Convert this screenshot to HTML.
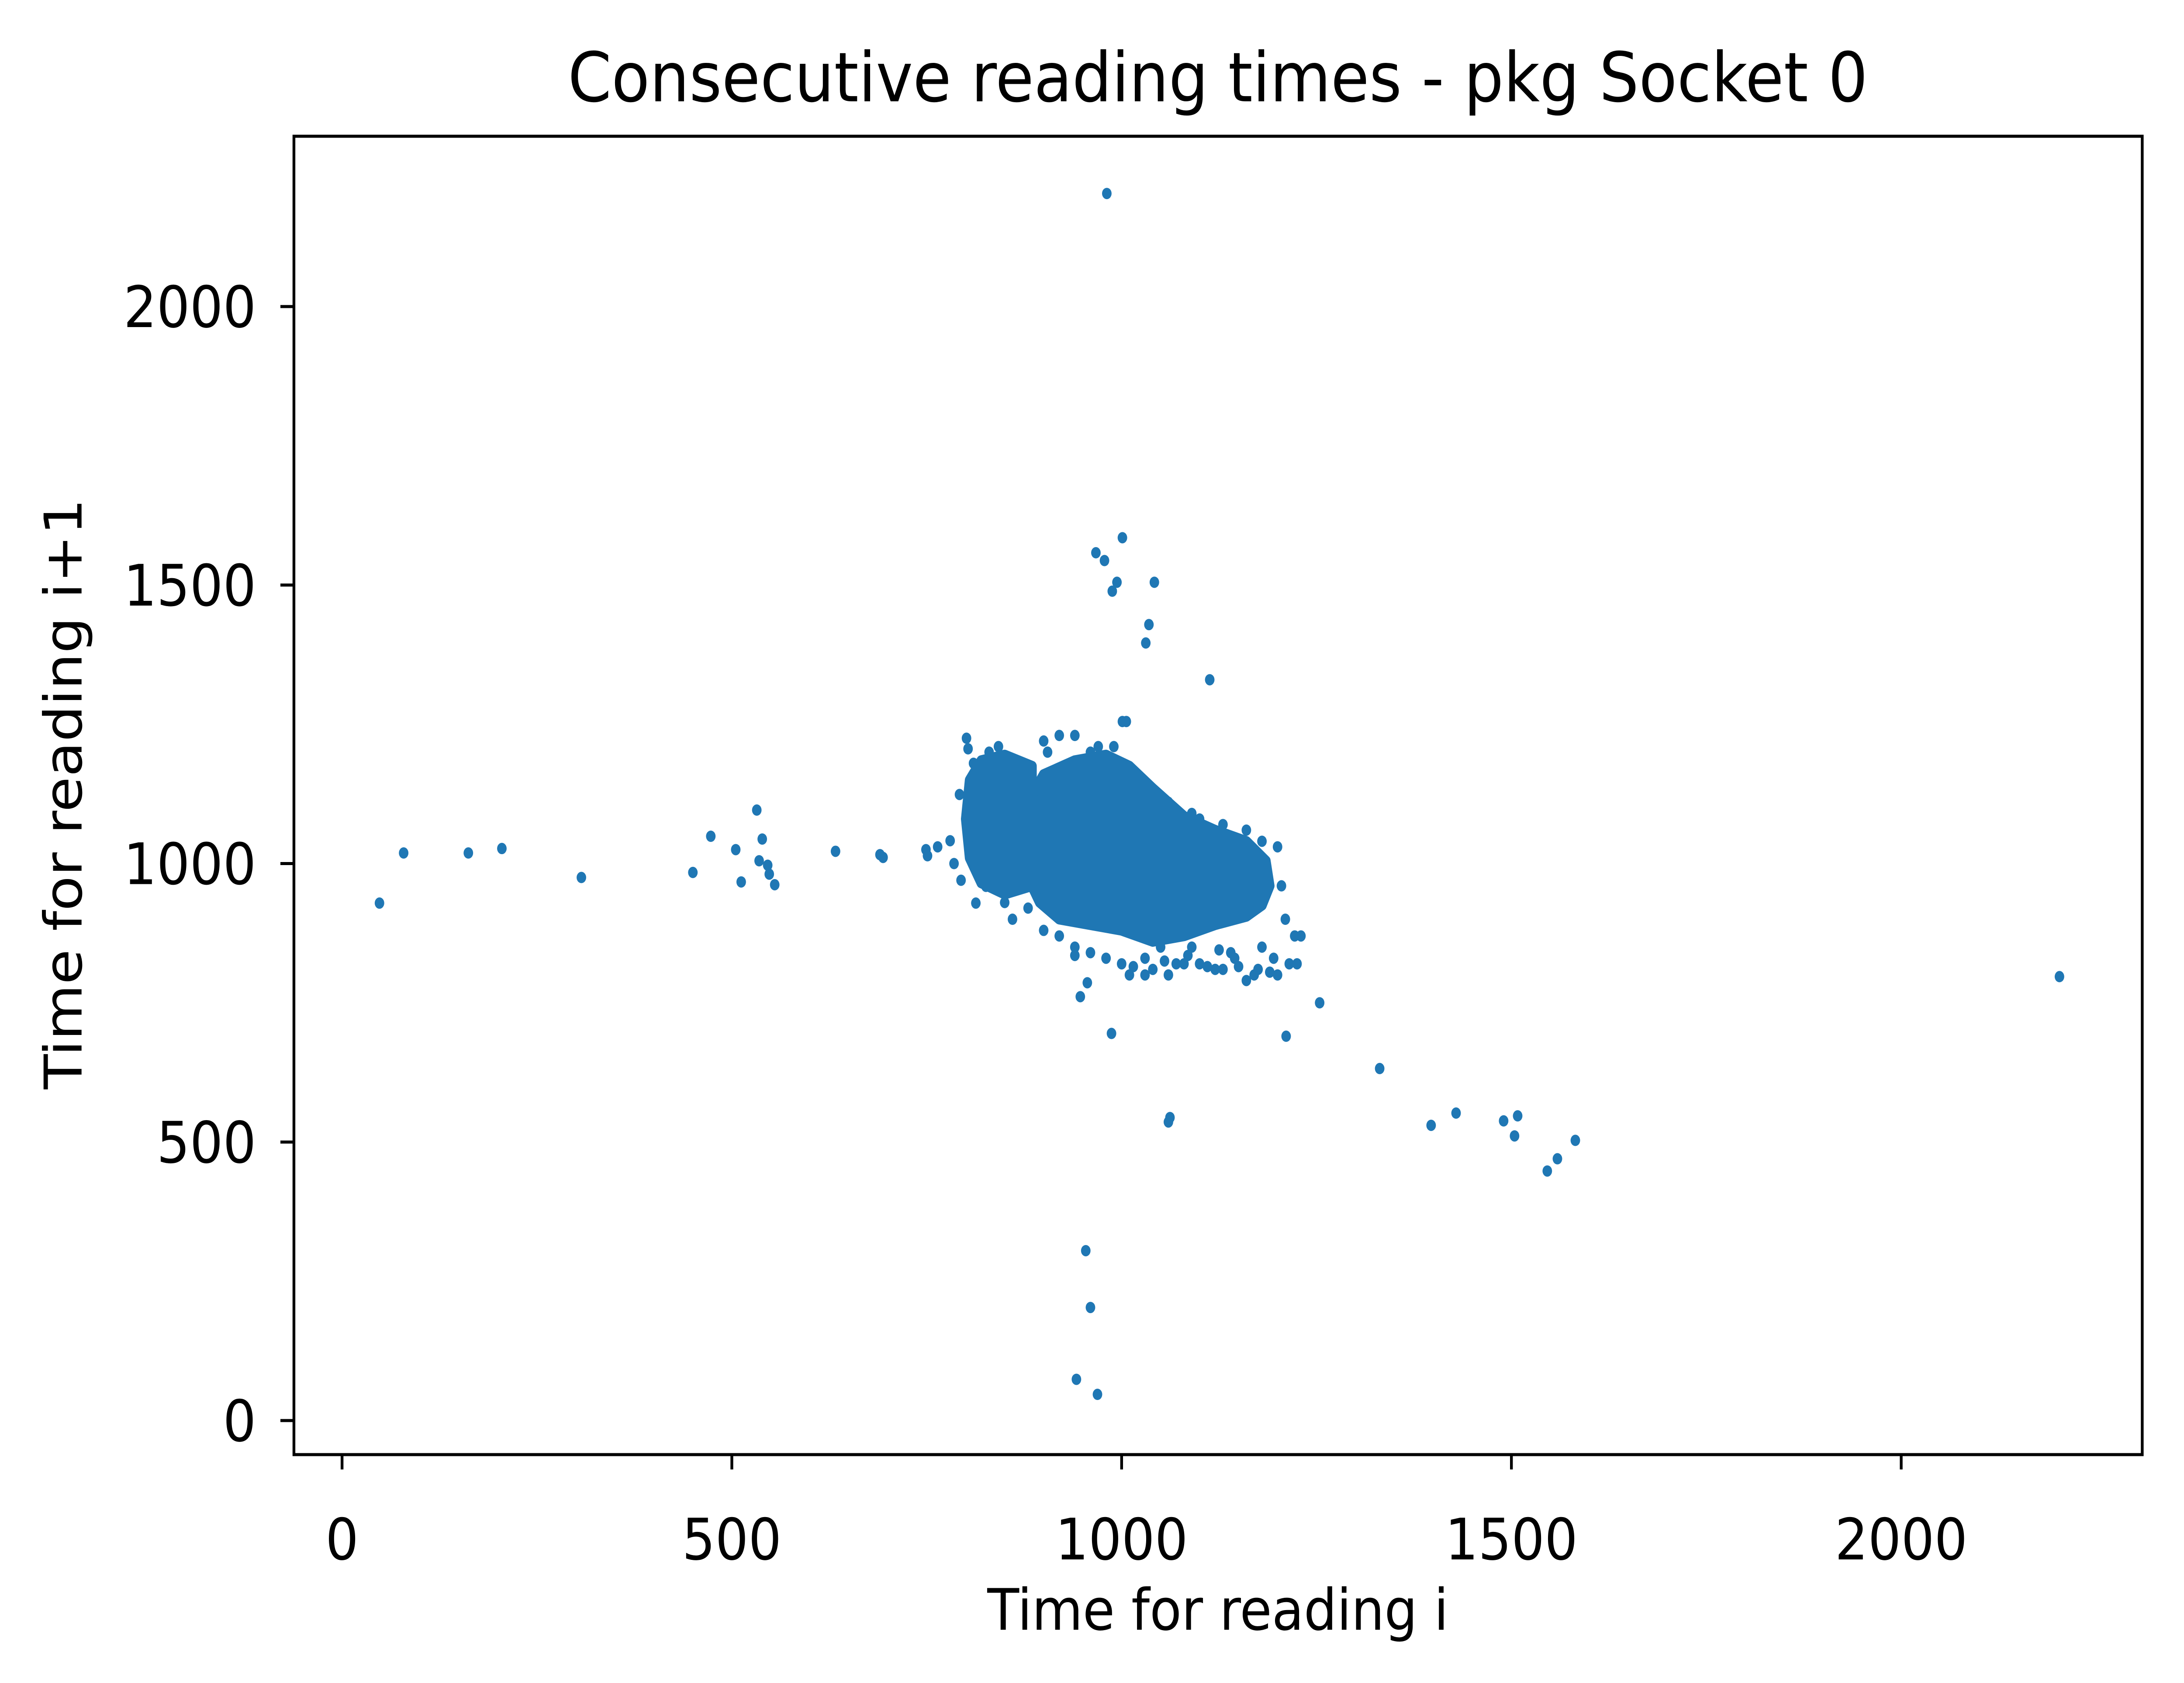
<!DOCTYPE html>
<html><head><meta charset="utf-8"><style>
html,body{margin:0;padding:0;background:#fff;overflow:hidden;width:100vw;height:100vh;}
svg{display:block;width:100vw;height:100vh;}
text{font-family:"DejaVu Sans","Liberation Sans",sans-serif;fill:#000;}
</style></head><body>
<svg id="chart" viewBox="0 0 5491 3854" preserveAspectRatio="none">
<rect x="0" y="0" width="5491" height="3854" fill="#fff"/>
<text x="3062" y="232" font-size="157" text-anchor="middle">Consecutive reading times - pkg Socket 0</text>
<text x="3062" y="3732" font-size="131" text-anchor="middle">Time for reading i</text>
<text transform="translate(205,1818) rotate(-90)" font-size="131" text-anchor="middle">Time for reading i+1</text>
<g id="marks"></g>
<g id="axes"></g>
</svg>
<script>
const xTicks = [0, 500, 1000, 1500, 2000];
const yTicks = [0, 500, 1000, 1500, 2000];
// dense core of the cluster (outline in data units)
const coreX = [880, 900, 940, 980, 1010, 1040, 1080, 1120, 1160, 1185, 1190, 1180, 1160, 1120, 1080, 1040, 1000, 960, 920, 895, 878, 872];
const coreY = [1110, 1160, 1185, 1195, 1175, 1135, 1085, 1060, 1040, 1005, 960, 925, 905, 890, 870, 860, 880, 890, 900, 930, 980, 1050];
// semi-dense left lobe of the cluster
const lobeX = [805, 820, 850, 885, 885, 850, 820, 805, 800];
const lobeY = [1150, 1185, 1195, 1175, 960, 945, 965, 1010, 1080];
// individual points
const ptX = [48,79,162,205,307,450,473,505,512,532,539,535,546,548,555,633,690,694,749,751,764,780,
  2203,1331,1211,1254,1397,1429,1490,1508,1504,1559,1546,1582,1062,1060,987,956,947,940,954,960,942,969,
  1113,967,978,1001,994,988,1042,1035,1031,981,1001,1006,
  801,803,792,794,785,813,826,810,820,835,845,850,860,815,830,842,855,865,808,822,838,852,870,880,
  1200,1215,1225,1222,1195,1175,1150,1120,1100,1070,1040,1030,1050,1090,1140,1180,1210,1205,1200,1180,1160,1130,1100,1090,1060,1040,1020,990,970,960,940,920,900,905,
  920,940,960,980,1000,1010,1030,900,880,860,850,1060,1080,1110,1130,1170,1190,1145,1085,1015,1055,1125,1160,1230];
const ptY = [929,1019,1019,1027,975,984,1049,1025,967,1096,1044,1005,997,981,962,1022,1016,1011,1025,1014,1030,1041,
  797,632,690,750,530,552,538,547,511,470,448,503,544,536,695,786,761,835,305,203,74,47,
  1330,1558,1544,1585,1505,1489,1505,1429,1396,2203,1255,1255,
  1225,1206,1124,970,1000,929,959,1180,1150,1100,1060,1020,990,1140,1200,1210,1170,1090,1060,1010,960,1130,1080,1030,
  800,820,820,870,830,810,815,810,820,820,810,830,850,850,840,850,900,960,1030,1040,1060,1070,1080,1090,1110,1130,1150,1210,1210,1200,1230,1230,1220,1200,
  870,850,840,830,820,800,800,880,920,900,930,800,820,815,810,800,805,830,835,815,825,845,790,870];

const L=739, R=5386, T=312, B=3331;
const X0=860, X2000=4780, Y0=3253, Y2000=702;
function sx(v){return X0+(X2000-X0)*v/2000;}
function sy(v){return Y0+(Y2000-Y0)*v/2000;}
const NS="http://www.w3.org/2000/svg";
const marks=document.getElementById('marks');
const axes=document.getElementById('axes');
const C="#1f77b4";

const core=document.createElementNS(NS,'polygon');


core.setAttribute('points',coreX.map((v,i)=>sx(v)+','+sy(coreY[i])).join(' '));
core.setAttribute('fill',C);core.setAttribute('stroke',C);
core.setAttribute('stroke-width','24');core.setAttribute('stroke-linejoin','round');
marks.appendChild(core);

const lobe=document.createElementNS(NS,'polygon');


lobe.setAttribute('points',lobeX.map((v,i)=>sx(v)+','+sy(lobeY[i])).join(' '));
lobe.setAttribute('fill',C);lobe.setAttribute('stroke',C);
lobe.setAttribute('stroke-width','24');lobe.setAttribute('stroke-linejoin','round');
marks.appendChild(lobe);

for(let i=0;i<ptX.length;i++){
  const c=document.createElementNS(NS,'ellipse');
  
  
  c.setAttribute('cx',sx(ptX[i]));c.setAttribute('cy',sy(ptY[i]));
  c.setAttribute('rx',12);c.setAttribute('ry',13);c.setAttribute('fill',C);
  marks.appendChild(c);
}

const frame=document.createElementNS(NS,'rect');


frame.setAttribute('x',L);frame.setAttribute('y',T);
frame.setAttribute('width',R-L);frame.setAttribute('height',B-T);
frame.setAttribute('fill','none');frame.setAttribute('stroke','#000');frame.setAttribute('stroke-width','7');
axes.appendChild(frame);

xTicks.forEach(v=>{
  const t=document.createElementNS(NS,'line');
  
  
  t.setAttribute('x1',sx(v));t.setAttribute('x2',sx(v));t.setAttribute('y1',B);t.setAttribute('y2',B+34);
  t.setAttribute('stroke','#000');t.setAttribute('stroke-width','7');
  axes.appendChild(t);
  const lb=document.createElementNS(NS,'text');
  
  
  lb.setAttribute('x',sx(v));lb.setAttribute('y',B+240);
  lb.setAttribute('font-size','131');lb.setAttribute('text-anchor','middle');
  lb.textContent=v;axes.appendChild(lb);
});
yTicks.forEach(v=>{
  const t=document.createElementNS(NS,'line');
  
  
  t.setAttribute('x1',L-34);t.setAttribute('x2',L);t.setAttribute('y1',sy(v));t.setAttribute('y2',sy(v));
  t.setAttribute('stroke','#000');t.setAttribute('stroke-width','7');
  axes.appendChild(t);
  const lb=document.createElementNS(NS,'text');
  
  
  lb.setAttribute('x',L-95);lb.setAttribute('y',sy(v)+47);
  lb.setAttribute('font-size','131');lb.setAttribute('text-anchor','end');
  lb.textContent=v;axes.appendChild(lb);
});
</script>
</body></html>
